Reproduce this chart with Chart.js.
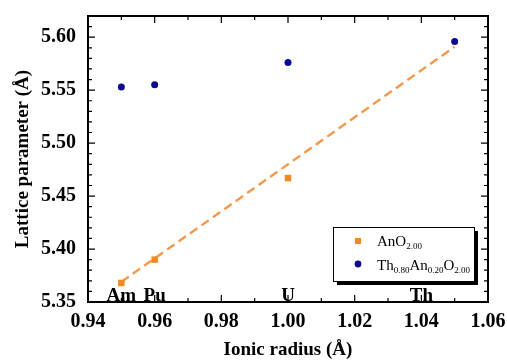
<!DOCTYPE html>
<html><head><meta charset="utf-8">
<script src="https://cdn.jsdelivr.net/npm/chart.js@4.4.0/dist/chart.umd.min.js"></script>
<style>html,body{margin:0;padding:0;background:#fff}#wrap{width:507px;height:361px}</style>
</head><body><div id="wrap"><canvas id="c" width="507" height="361"></canvas></div>
<script>
const ionicRadius = [0.95, 0.96, 1.00];
const anO2 = [5.368, 5.390, 5.467];
const thRadius = [0.95, 0.96, 1.00, 1.05];
const thAnO2 = [5.553, 5.555, 5.576, 5.596];
const fitX = [0.95, 1.05];
const fitY = [5.369, 5.591];
const elementNames = ['Am', 'Pu', 'U', 'Th'];
const elementX = [0.95, 0.96, 1.00, 1.04];
const xTicks = [0.94, 0.96, 0.98, 1.00, 1.02, 1.04, 1.06];
const yTicks = [5.35, 5.40, 5.45, 5.50, 5.55, 5.60];

const ORANGE = '#f28a24', LINE = '#f4984a', BLUE = '#0b0b8f';
const FONT = '"Liberation Serif", "Times New Roman", serif';

const toPts = (xs, ys) => xs.map((x, i) => ({x, y: ys[i]}));

const decor = {
  id: 'decor',
  afterDraw(chart) {
    const {ctx, chartArea: a, scales: {x, y}} = chart;
    ctx.save();
    ctx.strokeStyle = '#000';
    ctx.lineWidth = 1.2;
    for (let v = Math.round(x.min * 100); v <= Math.round(x.max * 100); v++) {
      const px = x.getPixelForValue(v / 100);
      const len = (v % 2 === 0) ? 7 : 4;
      ctx.beginPath();
      ctx.moveTo(px, a.bottom); ctx.lineTo(px, a.bottom - len);
      ctx.moveTo(px, a.top); ctx.lineTo(px, a.top + len);
      ctx.stroke();
    }
    for (let v = Math.round(y.min * 100); v <= Math.round(y.max * 100); v++) {
      const py = y.getPixelForValue(v / 100);
      const len = (v % 5 === 0) ? 7 : 4;
      ctx.beginPath();
      ctx.moveTo(a.left, py); ctx.lineTo(a.left + len, py);
      ctx.moveTo(a.right, py); ctx.lineTo(a.right - len, py);
      ctx.stroke();
    }
    ctx.lineWidth = 2;
    ctx.strokeRect(a.left, a.top, a.right - a.left, a.bottom - a.top);
    ctx.fillStyle = '#000';
    ctx.font = 'bold 19px ' + FONT;
    ctx.textAlign = 'center';
    ctx.textBaseline = 'alphabetic';
    elementNames.forEach((n, i) => {
      ctx.fillText(n, x.getPixelForValue(elementX[i]), a.bottom - 1);
    });
    // legend
    const lx = 333, ly = 227, lw = 141, lh = 54;
    ctx.fillStyle = '#000';
    ctx.fillRect(lx + 4, ly + 4, lw, lh);
    ctx.fillStyle = '#fff';
    ctx.fillRect(lx, ly, lw, lh);
    ctx.lineWidth = 1;
    ctx.strokeStyle = '#000';
    ctx.strokeRect(lx + 0.5, ly + 0.5, lw, lh);
    ctx.fillStyle = ORANGE;
    ctx.fillRect(355, 238, 6, 6);
    ctx.fillStyle = BLUE;
    ctx.beginPath(); ctx.arc(358, 264, 3.4, 0, Math.PI * 2); ctx.fill();
    const drawSub = (parts, x0, yb) => {
      let cx = x0;
      ctx.textAlign = 'left';
      ctx.fillStyle = '#000';
      parts.forEach(([t, sub]) => {
        ctx.font = (sub ? '9px ' : '15px ') + FONT;
        ctx.fillText(t, cx, yb + (sub ? 3 : 0));
        cx += ctx.measureText(t).width;
      });
    };
    drawSub([['AnO', 0], ['2.00', 1]], 377, 246);
    drawSub([['Th', 0], ['0.80', 1], ['An', 0], ['0.20', 1], ['O', 0], ['2.00', 1]], 377, 270);
    ctx.restore();
  }
};

new Chart(document.getElementById('c'), {
  type: 'scatter',
  data: {
    datasets: [
      {label: 'AnO2.00', data: toPts(ionicRadius, anO2), pointStyle: 'rect', pointRadius: 4.6,
       backgroundColor: ORANGE, borderColor: ORANGE, borderWidth: 0},
      {label: 'Th0.80An0.20O2.00', data: toPts(thRadius, thAnO2), pointStyle: 'circle', pointRadius: 3.5,
       backgroundColor: BLUE, borderColor: BLUE, borderWidth: 0},
      {label: 'fit', data: toPts(fitX, fitY), showLine: true, borderColor: LINE, borderWidth: 2.4,
       borderDash: [9, 5], pointRadius: 0, fill: false}
    ]
  },
  options: {
    responsive: false, animation: false, devicePixelRatio: 1,
    layout: {padding: {top: 13, right: 19, left: 0, bottom: 0}},
    plugins: {legend: {display: false}, tooltip: {enabled: false}},
    scales: {
      x: {
        type: 'linear', min: 0.94, max: 1.06,
        grid: {display: false}, border: {display: false},
        afterBuildTicks: s => { s.ticks = xTicks.map(v => ({value: v})); },
        afterFit: s => { s.height = 59; },
        ticks: {color: '#000', font: {family: FONT, size: 20, weight: 'bold'}, padding: 0,
                maxRotation: 0, callback: v => v.toFixed(2)},
        title: {display: true, text: 'Ionic radius (Å)', color: '#000',
                font: {family: FONT, size: 19, weight: 'bold'}, padding: {top: 0, bottom: 0}}
      },
      y: {
        type: 'linear', min: 5.35, max: 5.62,
        grid: {display: false}, border: {display: false},
        afterBuildTicks: s => { s.ticks = yTicks.map(v => ({value: v})); },
        afterFit: s => { s.width = 88; },
        ticks: {color: '#000', font: {family: FONT, size: 20, weight: 'bold'}, padding: 4,
                callback: v => v.toFixed(2)},
        title: {display: true, text: 'Lattice parameter (Å)', color: '#000',
                font: {family: FONT, size: 19, weight: 'bold'}, padding: {top: 12, bottom: 0}}
      }
    }
  },
  plugins: [decor]
});
</script></body></html>
